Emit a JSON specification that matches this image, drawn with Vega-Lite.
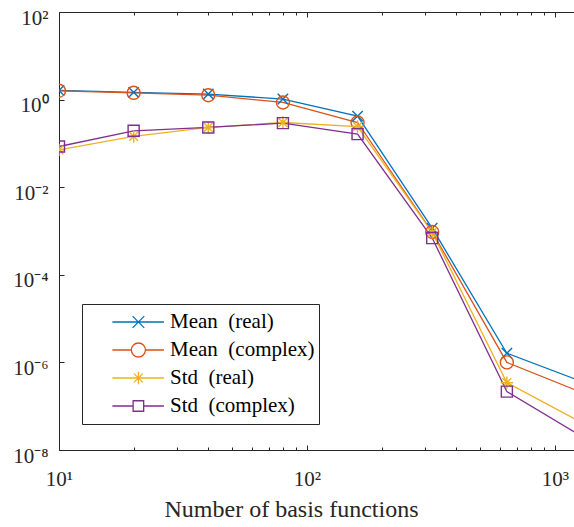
{
  "$schema": "https://vega.github.io/schema/vega-lite/v6.json",
  "width": 516,
  "height": 438,
  "autosize": "none",
  "padding": {"left": 59, "top": 12, "right": 0, "bottom": 77},
  "background": "white",
  "config": {
    "view": {"stroke": null},
    "font": "Liberation Serif",
    "axis": {"grid": false, "domainColor": "#262626", "tickColor": "#262626", "labelColor": "#262626", "titleColor": "#262626", "labelFont": "Liberation Serif", "titleFont": "Liberation Serif", "labelFontSize": 21, "titleFontSize": 24, "titleFontWeight": "normal", "labelFlush": false, "labelOverlap": false, "domainWidth": 1, "tickWidth": 1}
  },
  "data": {"values": [
    {"n": 10, "err": 1.62, "series": "Mean\u00a0 (real)"},
    {"n": 20, "err": 1.46, "series": "Mean\u00a0 (real)"},
    {"n": 40, "err": 1.34, "series": "Mean\u00a0 (real)"},
    {"n": 80, "err": 1.03, "series": "Mean\u00a0 (real)"},
    {"n": 160, "err": 0.42, "series": "Mean\u00a0 (real)"},
    {"n": 320, "err": 0.00116, "series": "Mean\u00a0 (real)"},
    {"n": 640, "err": 1.62e-6, "series": "Mean\u00a0 (real)"},
    {"n": 1280, "err": 3.66e-7, "series": "Mean\u00a0 (real)"},
    {"n": 10, "err": 1.59, "series": "Mean\u00a0 (complex)"},
    {"n": 20, "err": 1.43, "series": "Mean\u00a0 (complex)"},
    {"n": 40, "err": 1.26, "series": "Mean\u00a0 (complex)"},
    {"n": 80, "err": 0.86, "series": "Mean\u00a0 (complex)"},
    {"n": 160, "err": 0.30, "series": "Mean\u00a0 (complex)"},
    {"n": 320, "err": 0.00095, "series": "Mean\u00a0 (complex)"},
    {"n": 640, "err": 1.0e-6, "series": "Mean\u00a0 (complex)"},
    {"n": 1280, "err": 2.07e-7, "series": "Mean\u00a0 (complex)"},
    {"n": 10, "err": 0.0714, "series": "Std\u00a0 (real)"},
    {"n": 20, "err": 0.144, "series": "Std\u00a0 (real)"},
    {"n": 40, "err": 0.231, "series": "Std\u00a0 (real)"},
    {"n": 80, "err": 0.30, "series": "Std\u00a0 (real)"},
    {"n": 160, "err": 0.243, "series": "Std\u00a0 (real)"},
    {"n": 320, "err": 0.00093, "series": "Std\u00a0 (real)"},
    {"n": 640, "err": 3.44e-7, "series": "Std\u00a0 (real)"},
    {"n": 1280, "err": 4.25e-8, "series": "Std\u00a0 (real)"},
    {"n": 10, "err": 0.085, "series": "Std\u00a0 (complex)"},
    {"n": 20, "err": 0.194, "series": "Std\u00a0 (complex)"},
    {"n": 40, "err": 0.231, "series": "Std\u00a0 (complex)"},
    {"n": 80, "err": 0.29, "series": "Std\u00a0 (complex)"},
    {"n": 160, "err": 0.163, "series": "Std\u00a0 (complex)"},
    {"n": 320, "err": 0.00069, "series": "Std\u00a0 (complex)"},
    {"n": 640, "err": 2.15e-7, "series": "Std\u00a0 (complex)"},
    {"n": 1280, "err": 2.06e-8, "series": "Std\u00a0 (complex)"}
  ]},
  "encoding": {
    "y": {"field": "err", "type": "quantitative", "scale": {"type": "log", "domain": [1e-8, 100], "nice": false},
      "axis": {"orient": "left", "values": [1e-8, 1e-6, 1e-4, 1e-2, 1, 100],
        "labelExpr": "datum.value == 100 ? '10\u00b2' : datum.value == 1 ? '10\u2070' : datum.value == 0.01 ? '10\u207b\u00b2' : datum.value == 0.0001 ? '10\u207b\u2074' : datum.value == 0.000001 ? '10\u207b\u2076' : '10\u207b\u2078'",
        "tickSize": -5, "labelPadding": 16, "labelOffset": 6, "title": null}}
  },
  "layer": [
    {
      "mark": {"type": "line", "strokeWidth": 1.3, "clip": true},
      "encoding": {
        "x": {"field": "n", "type": "quantitative", "scale": {"type": "log", "domain": [10, 1205], "nice": false},
          "axis": {"orient": "bottom", "values": [10,20,30,40,50,60,70,80,90,100,200,300,400,500,600,700,800,900,1000],
            "labelExpr": "datum.value == 10 ? '10\u00b9' : datum.value == 100 ? '10\u00b2' : datum.value == 1000 ? '10\u00b3' : ''",
            "tickSize": {"condition": {"test": "datum.value == 10 || datum.value == 100 || datum.value == 1000", "value": -5}, "value": -3},
            "labelPadding": 23,
            "title": "Number of basis functions", "titleX": 232, "titleY": 66, "titleBaseline": "alphabetic"}},
        "color": {"field": "series", "type": "nominal", "sort": null,
          "scale": {"domain": ["Mean\u00a0 (real)", "Mean\u00a0 (complex)", "Std\u00a0 (real)", "Std\u00a0 (complex)"], "range": ["#0072BD", "#D95319", "#EDB120", "#7E2F8E"]},
          "legend": null}
      }
    },
    {
      "mark": {"type": "point", "filled": false, "size": 169, "strokeWidth": 1.4, "opacity": 1, "clip": true},
      "encoding": {
        "x": {"field": "n", "type": "quantitative", "axis": null},
        "color": {"field": "series", "type": "nominal", "sort": null,
          "scale": {"domain": ["Mean\u00a0 (real)", "Mean\u00a0 (complex)", "Std\u00a0 (real)", "Std\u00a0 (complex)"], "range": ["#0072BD", "#D95319", "#EDB120", "#7E2F8E"]},
          "legend": null},
        "shape": {"field": "series", "type": "nominal", "sort": null,
          "scale": {"domain": ["Mean\u00a0 (real)", "Mean\u00a0 (complex)", "Std\u00a0 (real)", "Std\u00a0 (complex)"],
            "range": ["M-0.8,-0.8L0.8,0.8M-0.8,0.8L0.8,-0.8", "circle", "M-0.95,0H0.95M0,-0.95V0.95M-0.67,-0.67L0.67,0.67M-0.67,0.67L0.67,-0.67", "M-0.85,-0.85H0.85V0.85H-0.85Z"]},
          "legend": null}
      }
    },
    {
      "mark": {"type": "point", "filled": false, "opacity": 0, "clip": true},
      "encoding": {
        "x": {"field": "n", "type": "quantitative",
          "axis": {"orient": "top", "values": [10,20,30,40,50,60,70,80,90,100,200,300,400,500,600,700,800,900,1000],
            "labels": false, "title": null,
            "tickSize": {"condition": {"test": "datum.value == 10 || datum.value == 100 || datum.value == 1000", "value": -5}, "value": -3}}},
        "color": {"field": "series", "type": "nominal", "sort": null,
          "scale": {"domain": ["Mean\u00a0 (real)", "Mean\u00a0 (complex)", "Std\u00a0 (real)", "Std\u00a0 (complex)"], "range": ["#0072BD", "#D95319", "#EDB120", "#7E2F8E"]},
          "legend": {"orient": "none", "legendX": 23, "legendY": 292, "title": null, "symbolSize": 6084, "symbolStrokeWidth": 1.3, "symbolOpacity": 1, "symbolFillColor": "transparent", "labelFont": "Liberation Serif", "labelFontSize": 21, "labelColor": "#000000", "labelOffset": 4, "clipHeight": 28, "rowPadding": 0, "padding": 4, "strokeColor": "#262626", "fillColor": "#ffffff"}},
        "shape": {"field": "series", "type": "nominal", "sort": null,
          "scale": {"domain": ["Mean\u00a0 (real)", "Mean\u00a0 (complex)", "Std\u00a0 (real)", "Std\u00a0 (complex)"],
            "range": [
              "M-0.349,0H0.972M0.168,-0.15L0.468,0.15M0.168,0.15L0.468,-0.15",
              "M-0.349,0H0.138M0.498,0H0.972M0.498,0A0.18,0.18,0,1,1,0.138,0A0.18,0.18,0,1,1,0.498,0Z",
              "M-0.349,0H0.972M0.318,-0.16V0.16M0.205,-0.113L0.431,0.113M0.205,0.113L0.431,-0.113",
              "M-0.349,0H0.183M0.453,0H0.972M0.183,-0.135H0.453V0.135H0.183Z"]},
          "legend": {"orient": "none", "legendX": 23, "legendY": 292, "title": null, "symbolSize": 6084, "symbolStrokeWidth": 1.3, "symbolOpacity": 1, "symbolFillColor": "transparent", "labelFont": "Liberation Serif", "labelFontSize": 21, "labelColor": "#000000", "labelOffset": 4, "clipHeight": 28, "rowPadding": 0, "padding": 4, "strokeColor": "#262626", "fillColor": "#ffffff"}}
      }
    }
  ],
  "resolve": {"scale": {"color": "independent", "shape": "independent"}, "axis": {"x": "independent"}}
}
